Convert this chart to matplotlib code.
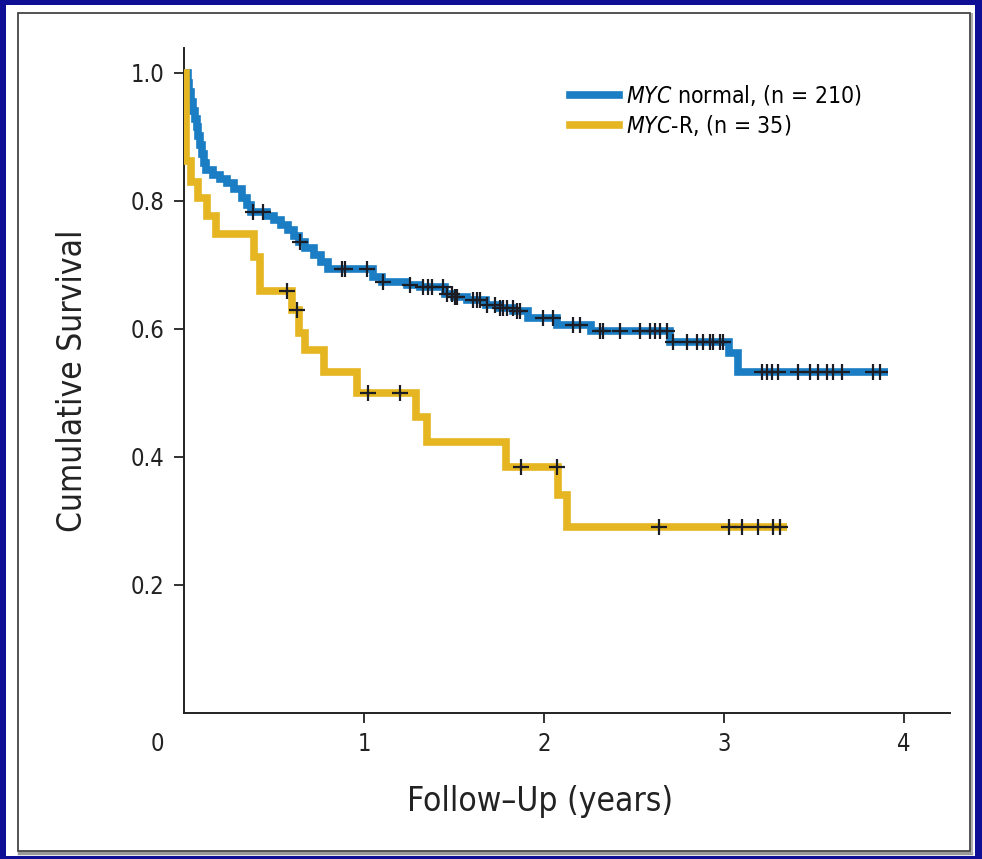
import numpy as np
import matplotlib
matplotlib.use("Agg")
import matplotlib.pyplot as plt
from matplotlib.lines import Line2D
from matplotlib.patches import Rectangle

plt.rcParams['font.family'] = ['DejaVu Sans']
plt.rcParams['font.stretch'] = 'condensed'
plt.rcParams['mathtext.fontset'] = 'custom'
plt.rcParams['mathtext.it'] = 'DejaVu Sans:italic'
plt.rcParams['mathtext.rm'] = 'DejaVu Sans'

# MYC normal (n = 210): step times (years) and survival after each step
normal_times = [0.00, 0.02, 0.03, 0.04, 0.05, 0.06, 0.07, 0.08, 0.09, 0.10,
                0.11, 0.12, 0.16, 0.20, 0.24, 0.28, 0.32, 0.35, 0.37, 0.46,
                0.50, 0.54, 0.58, 0.61, 0.64, 0.67, 0.72, 0.76, 0.80, 1.05,
                1.10, 1.24, 1.31, 1.45, 1.50, 1.57, 1.68, 1.75, 1.83, 1.91,
                2.07, 2.26, 2.70, 3.03, 3.08]
normal_surv = [1.000, 0.985, 0.970, 0.955, 0.940, 0.928, 0.916, 0.902, 0.888, 0.874,
               0.860, 0.848, 0.840, 0.834, 0.828, 0.818, 0.805, 0.793, 0.783, 0.776,
               0.770, 0.762, 0.754, 0.745, 0.736, 0.727, 0.716, 0.705, 0.694, 0.681,
               0.673, 0.669, 0.665, 0.655, 0.650, 0.645, 0.638, 0.633, 0.628, 0.617,
               0.606, 0.597, 0.580, 0.562, 0.532]
normal_end = 3.91
normal_censored = [0.383, 0.439, 0.644, 0.878, 0.894, 1.017, 1.106, 1.256, 1.328, 1.356,
                   1.378, 1.439, 1.461, 1.489, 1.506, 1.517, 1.606, 1.628, 1.644, 1.683,
                   1.728, 1.756, 1.772, 1.794, 1.828, 1.850, 1.867, 1.994, 2.050, 2.161,
                   2.200, 2.311, 2.328, 2.422, 2.533, 2.589, 2.617, 2.644, 2.683, 2.717,
                   2.794, 2.850, 2.883, 2.922, 2.939, 2.978, 2.994, 3.211, 3.239, 3.267,
                   3.300, 3.411, 3.478, 3.522, 3.572, 3.606, 3.656, 3.828, 3.867]

# MYC-R (n = 35)
rearr_times = [0.00, 0.01, 0.04, 0.08, 0.13, 0.18, 0.39, 0.42, 0.60, 0.64,
               0.67, 0.78, 0.96, 1.29, 1.35, 1.79, 2.08, 2.13]
rearr_surv = [1.000, 0.862, 0.830, 0.805, 0.777, 0.748, 0.712, 0.660, 0.630, 0.594,
              0.567, 0.533, 0.500, 0.4625, 0.423, 0.385, 0.340, 0.290]
rearr_end = 3.35
rearr_censored = [0.57, 0.63, 1.02, 1.20, 1.87, 2.07, 2.64, 3.03, 3.10, 3.19, 3.27, 3.31]

labels = [r'$\it{MYC}$ normal, (n = 210)', r'$\it{MYC}$-R, (n = 35)']
colors = ['#1b7dc3', '#e5b622']

x_ticks = [1, 2, 3, 4]
y_ticks = [0.2, 0.4, 0.6, 0.8, 1.0]


def surv_at(times, surv, t):
    idx = np.searchsorted(times, t, side='right') - 1
    return np.asarray(surv)[idx]


W, H = 982, 859
fig = plt.figure(figsize=(W / 100, H / 100), dpi=100)
fig.patch.set_facecolor('#0f0f96')

# white panel with thin frame
fig.patches.append(Rectangle((6 / W, 1 - 856 / H), 969 / W, 851 / H,
                             transform=fig.transFigure, facecolor='white',
                             edgecolor='none', zorder=-3))
fig.patches.append(Rectangle((18 / W, 1 - 851 / H), 952 / W, 838 / H,
                             transform=fig.transFigure, facecolor='none',
                             edgecolor='#444444', linewidth=1.3, zorder=-2))
fig.lines.append(Line2D([19 / W, 971 / W], [1 - 853 / H, 1 - 853 / H],
                        transform=fig.transFigure, color='#9a9a9a', linewidth=2.5,
                        zorder=-2))
fig.lines.append(Line2D([972 / W, 972 / W], [1 - 853 / H, 1 - 14 / H],
                        transform=fig.transFigure, color='#b0b0b0', linewidth=1.5,
                        zorder=-2))

ax = fig.add_axes([184 / W, 1 - 713 / H, 766 / W, 665 / H])
ax.set_zorder(5)
ax.set_facecolor('none')

curves = [(normal_times, normal_surv, normal_end, normal_censored),
          (rearr_times, rearr_surv, rearr_end, rearr_censored)]
for (times, surv, end, cens), color in zip(curves, colors):
    t = np.append(times, end)
    s = np.append(surv, surv[-1])
    ax.step(t, s, where='post', color=color, linewidth=5.5, solid_joinstyle='miter',
            solid_capstyle='butt', zorder=3)
    cy = surv_at(np.asarray(times), surv, np.asarray(cens))
    ax.plot(cens, cy, linestyle='none', marker='+', markersize=11,
            markeredgewidth=1.6, color='#1c1c24', zorder=4)

ax.set_xlim(0, 4.256)
ax.set_ylim(0, 1.039)
ax.set_xticks(x_ticks)
ax.set_xticklabels([str(v) for v in x_ticks])
ax.set_yticks(y_ticks)
ax.set_yticklabels([f'{v:.1f}' for v in y_ticks])
ax.annotate('0', xy=(0, 0), xytext=(-19, -14), textcoords='offset points',
            ha='center', va='top', fontsize=17, color='#222222')

for side in ['top', 'right']:
    ax.spines[side].set_visible(False)
for side in ['left', 'bottom']:
    ax.spines[side].set_linewidth(1.4)
    ax.spines[side].set_color('#222222')
ax.tick_params(direction='out', length=7, width=1.3, color='#222222',
               labelsize=17, labelcolor='#222222', pad=7)

ax.set_xlabel('Follow–Up (years)', fontsize=24, color='#222222')
ax.xaxis.set_label_coords(0.465, -0.108)
ax.set_ylabel('Cumulative Survival', fontsize=24, color='#222222', labelpad=30)

handles = [Line2D([], [], color=c, linewidth=5.5) for c in colors]
ax.legend(handles, labels, loc='upper left', bbox_to_anchor=(0.483, 0.972),
          frameon=False, fontsize=16.5, handlelength=2.15, handletextpad=0.3,
          labelspacing=0.22, borderpad=0.2)

fig.savefig('out.png', dpi=100, facecolor=fig.get_facecolor())
